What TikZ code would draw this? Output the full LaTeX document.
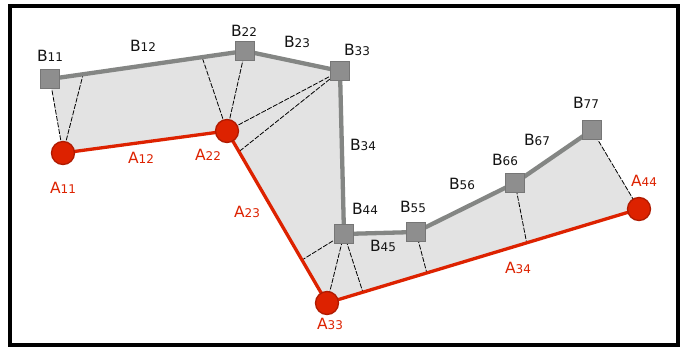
\documentclass[tikz,border=0pt]{standalone}
\usepackage{fontspec}
\setmainfont{DejaVu Sans}
\usetikzlibrary{calc}
\definecolor{areafill}{HTML}{E3E3E3}
\definecolor{bline}{HTML}{848684}
\definecolor{bsq}{HTML}{8E8E8E}
\definecolor{bsqd}{HTML}{767676}
\definecolor{ared}{HTML}{DD2200}
\definecolor{aredd}{HTML}{B01A00}
\newcommand{\lab}[2]{{\fontsize{15.5}{17}\selectfont #1\fontsize{12}{14}\selectfont #2}}
\tikzset{
  bnode/.style={draw=bsqd, fill=bsq, line width=1.3pt, minimum size=18.5pt, inner sep=0pt},
  anode/.style={circle, draw=aredd, fill=ared, line width=1.3pt, minimum size=23pt, inner sep=0pt},
  bpath/.style={draw=bline, line width=4.3pt, line join=round},
  apath/.style={draw=ared, line width=3.3pt, line join=round},
  guide/.style={draw=black, line width=0.8pt, dash pattern=on 5pt off 1.5pt},
  blab/.style={text=black!92, inner sep=0pt},
  alab/.style={text=ared, inner sep=0pt}
}
\begin{document}
\begin{tikzpicture}[x=1pt,y=-1pt]
\useasboundingbox (0,0) rectangle (689,348);
\fill[white] (0,0) rectangle (689,348);
% positions
\coordinate (b11) at (50,79);
\coordinate (b22) at (245,51);
\coordinate (b33) at (340,71);
\coordinate (b44) at (344,234);
\coordinate (b55) at (416,232);
\coordinate (b66) at (515,183);
\coordinate (b77) at (592,130);
\coordinate (a11) at (63,153);
\coordinate (a22) at (227,131);
\coordinate (a33) at (327,303);
\coordinate (a44) at (639,209);
% shaded area
\fill[areafill] (b11) -- (b22) -- (b33) -- (b44) -- (b55) -- (b66) -- (b77) -- (a44) -- (a33) -- (a22) -- (a11) -- cycle;
% guide lines
\coordinate (p12a) at ($(b11)!0.17!(b22)$);
\coordinate (p12b) at ($(b11)!0.78!(b22)$);
\coordinate (q23a) at ($(a22)!0.12!(a33)$);
\coordinate (q23b) at ($(a22)!0.75!(a33)$);
\coordinate (q34a) at ($(a33)!0.115!(a44)$);
\coordinate (q34b) at ($(a33)!0.32!(a44)$);
\coordinate (q34c) at ($(a33)!0.64!(a44)$);
\draw[guide] (a11) -- (b11);
\draw[guide] (a11) -- (p12a);
\draw[guide] (a22) -- (p12b);
\draw[guide] (a22) -- (b22);
\draw[guide] (a22) -- (b33);
\draw[guide] (b33) -- (q23a);
\draw[guide] (b44) -- (q23b);
\draw[guide] (b44) -- (a33);
\draw[guide] (b44) -- (q34a);
\draw[guide] (b55) -- (q34b);
\draw[guide] (b66) -- (q34c);
\draw[guide] (b77) -- (a44);
% main paths
\draw[bpath] (b11) -- (b22) -- (b33) -- (b44) -- (b55) -- (b66) -- (b77);
\draw[apath] (a11) -- (a22) -- (a33) -- (a44);
% nodes
\foreach \n in {11,22,33,44,55,66,77} \node[bnode] (B\n) at (b\n) {};
\foreach \n in {11,22,33,44} \node[anode] (A\n) at (a\n) {};
% labels
\node[blab] (LB11) at (50,56) {\lab{B}{11}};
\node[blab] (LB12) at (143,46) {\lab{B}{12}};
\node[blab] (LB22) at (244,31) {\lab{B}{22}};
\node[blab] (LB23) at (297,42) {\lab{B}{23}};
\node[blab] (LB33) at (357,50) {\lab{B}{33}};
\node[blab] (LB34) at (363,145) {\lab{B}{34}};
\node[blab] (LB44) at (365,209) {\lab{B}{44}};
\node[blab] (LB55) at (413,207) {\lab{B}{55}};
\node[blab] (LB45) at (383,246) {\lab{B}{45}};
\node[blab] (LB56) at (462,184) {\lab{B}{56}};
\node[blab] (LB66) at (505,160) {\lab{B}{66}};
\node[blab] (LB67) at (537,140) {\lab{B}{67}};
\node[blab] (LB77) at (586,103) {\lab{B}{77}};
\node[alab] (LA11) at (63,188) {\lab{A}{11}};
\node[alab] (LA12) at (141,158) {\lab{A}{12}};
\node[alab] (LA22) at (208,155) {\lab{A}{22}};
\node[alab] (LA23) at (247,212) {\lab{A}{23}};
\node[alab] (LA33) at (330,324) {\lab{A}{33}};
\node[alab] (LA34) at (518,268) {\lab{A}{34}};
\node[alab] (LA44) at (644,181) {\lab{A}{44}};
% frame
\draw[line width=4pt] (10,6) rectangle (678,345);
\end{tikzpicture}
\end{document}
